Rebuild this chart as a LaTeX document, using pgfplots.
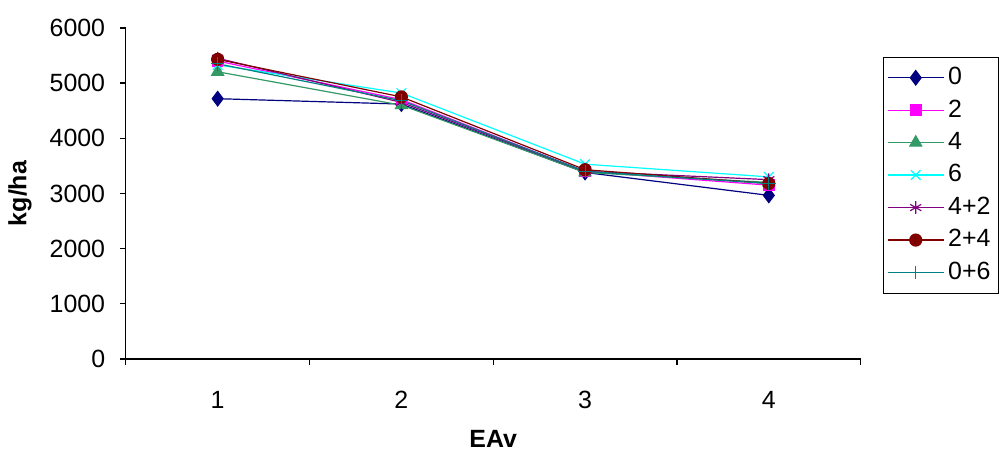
\documentclass[border=0pt]{standalone}
\usepackage{fontspec}
\setmainfont{Liberation Sans}
\usepackage{pgfplots}
\pgfplotsset{compat=1.18}
\definecolor{cA}{RGB}{0,0,128}
\definecolor{cB}{RGB}{255,0,255}
\definecolor{cC}{RGB}{51,153,102}
\definecolor{cD}{RGB}{0,255,255}
\definecolor{cE}{RGB}{128,0,128}
\definecolor{cF}{RGB}{128,0,0}
\definecolor{cG}{RGB}{0,128,128}
\begin{document}
\fontsize{12.5}{15}\selectfont
\begin{tikzpicture}
\begin{axis}[
  scale only axis, width=368.5pt, height=166pt,
  xmin=0.5, xmax=4.5, ymin=0, ymax=6000,
  axis lines*=left,
  axis line style={line width=0.6pt},
  xtick={1,2,3,4}, major x tick style={draw=none},
  minor xtick={0.5,1.5,2.5,3.5,4.5},
  minor tick length=3pt,
  ytick={0,1000,...,6000},
  major tick length=3pt,
  tick align=outside,
  tick style={black, line width=0.6pt},
  /pgf/number format/assume math mode=true,
  /pgf/number format/1000 sep={},
  ticklabel style={font=\fontsize{12.5}{15}\selectfont},
  xticklabel style={yshift=-9pt},
  yticklabel style={xshift=-3pt},
  xlabel={\textbf{EAv}}, ylabel={\textbf{kg/ha}},
  xlabel style={at={(axis description cs:0.5,-0.241)}, anchor=center, font=\fontsize{12.5}{15}\selectfont},
  ylabel style={at={(axis description cs:-0.144,0.5)}, anchor=center, font=\fontsize{12.5}{15}\selectfont},
  legend style={at={(axis description cs:1.03,0.913)}, anchor=north west, draw=black, line width=0.5pt,
    font=\fontsize{12.5}{15}\selectfont, row sep=1.7pt, inner xsep=2pt, inner ysep=3pt},
  legend cell align=left,
  legend image code/.code={\draw[#1] (0pt,0pt) -- (28pt,0pt); \draw[#1, mark repeat=2, mark phase=2] plot coordinates {(0pt,0pt) (14pt,0pt) (28pt,0pt)};},
  every axis plot/.append style={line width=0.6pt},
]
\addplot[cA, mark=diamond*, mark size=3.6pt] coordinates {(1,4717) (2,4620) (3,3380) (4,2965)};
\addplot[cB, mark=square*, mark size=2.6pt] coordinates {(1,5400) (2,4700) (3,3400) (4,3150)};
\addplot[cC, mark=triangle*, mark size=3.4pt] coordinates {(1,5205) (2,4600) (3,3380) (4,3200)};
\addplot[cD, mark=x, mark size=3.4pt] coordinates {(1,5330) (2,4820) (3,3530) (4,3300)};
\addplot[cE, mark=asterisk, mark size=3.2pt] coordinates {(1,5450) (2,4650) (3,3400) (4,3250)};
\addplot[cF, mark=*, mark size=3pt] coordinates {(1,5430) (2,4750) (3,3430) (4,3180)};
\addplot[cG, mark=+, mark size=3.4pt] coordinates {(1,5350) (2,4680) (3,3400) (4,3180)};
\legend{0,2,4,6,4+2,2+4,0+6}
\coordinate (bl) at (axis description cs:-0.171,-0.283);
\coordinate (tr) at (axis description cs:1.1845,1.0843);
\end{axis}
\useasboundingbox (bl) rectangle (tr);
\end{tikzpicture}
\end{document}
